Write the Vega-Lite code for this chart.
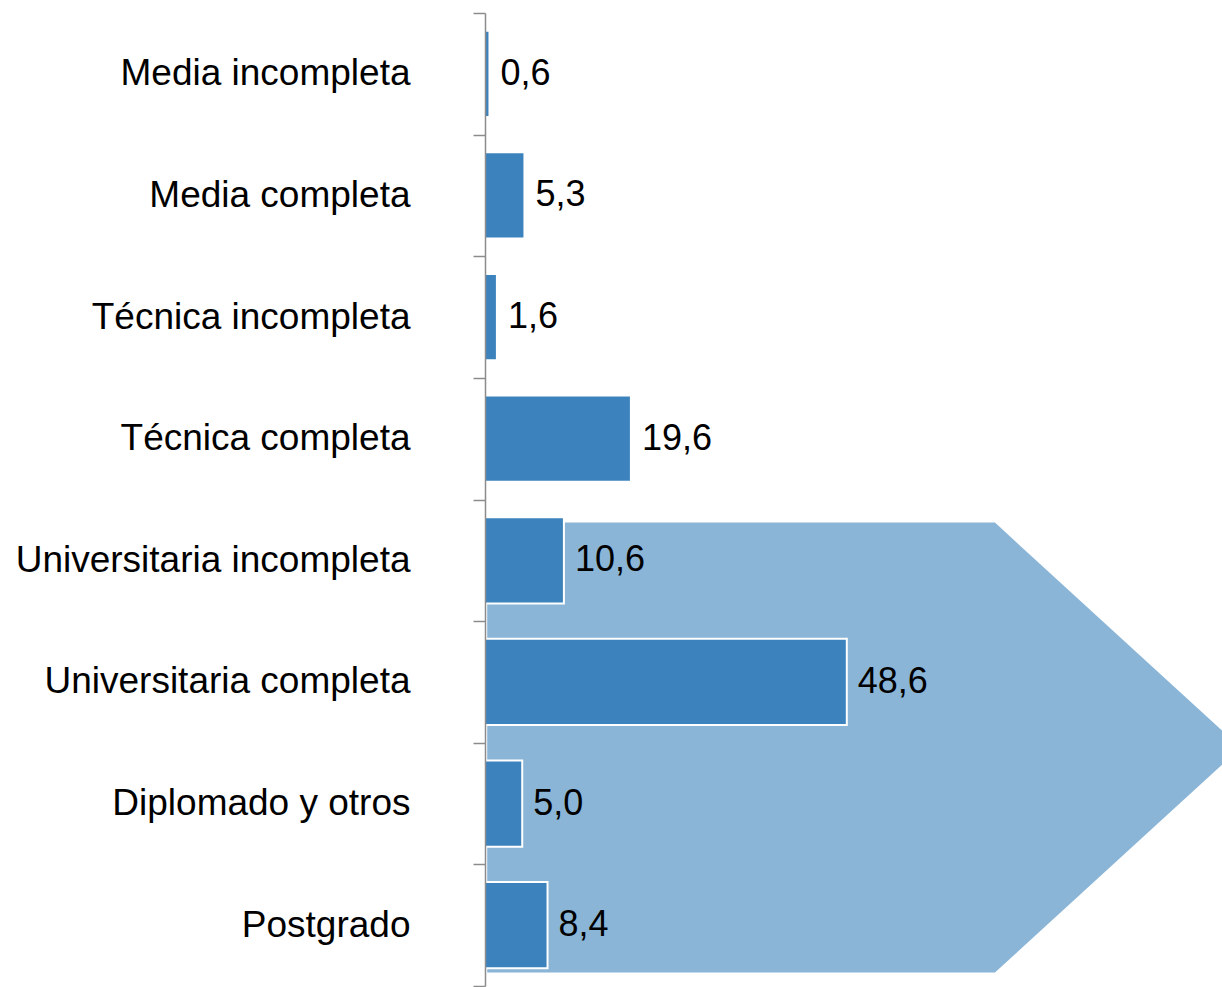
{
  "$schema": "https://vega.github.io/schema/vega-lite/v6.json",
  "autosize": "none",
  "padding": {"left": 485, "top": 13, "right": 0, "bottom": 1},
  "width": 737,
  "height": 973,
  "config": {
    "view": {"stroke": null},
    "font": "Liberation Sans",
    "locale": {"number": {"decimal": ",", "thousands": ".", "grouping": [3], "currency": ["", ""]}}
  },
  "layer": [
    {
      "data": {"values": [
        {"pos": 4.19, "reach": 68.5},
        {"pos": 6.04, "reach": 101.5},
        {"pos": 7.89, "reach": 68.5}
      ]},
      "mark": {"type": "area", "orient": "horizontal", "color": "#8AB5D7", "opacity": 1},
      "encoding": {
        "y": {"field": "pos", "type": "quantitative", "scale": {"domain": [0, 8], "reverse": true, "nice": false, "zero": false}, "axis": null},
        "x": {"field": "reach", "type": "quantitative", "scale": {"domain": [0, 99], "nice": false}, "axis": null},
        "x2": {"datum": 0.3}
      }
    },
    {
      "data": {"values": [
        {"nivel": "Media incompleta", "pct": 0.6},
        {"nivel": "Media completa", "pct": 5.3},
        {"nivel": "Técnica incompleta", "pct": 1.6},
        {"nivel": "Técnica completa", "pct": 19.6},
        {"nivel": "Universitaria incompleta", "pct": 10.6},
        {"nivel": "Universitaria completa", "pct": 48.6},
        {"nivel": "Diplomado y otros", "pct": 5.0},
        {"nivel": "Postgrado", "pct": 8.4}
      ]},
      "encoding": {
        "y": {
          "field": "nivel", "type": "nominal", "sort": null,
          "scale": {"paddingInner": 0, "paddingOuter": 0},
          "axis": {
            "title": null,
            "tickBand": "extent",
            "labelFontSize": 37,
            "labelColor": "#000000",
            "labelFont": "Liberation Sans",
            "labelPadding": 63,
            "labelLimit": 600,
            "tickSize": 12,
            "tickColor": "#8c8c8c",
            "tickWidth": 1.5,
            "domainColor": "#8c8c8c",
            "domainWidth": 1.5,
            "zindex": 1
          }
        },
        "x": {"field": "pct", "type": "quantitative", "scale": {"domain": [0, 99], "nice": false}, "axis": null}
      },
      "layer": [
        {"mark": {"type": "bar", "color": "#3C83BE", "stroke": "#ffffff", "strokeWidth": 2, "height": {"band": 0.71}}},
        {
          "mark": {"type": "text", "align": "left", "baseline": "middle", "dx": 11, "fontSize": 36, "color": "#000000", "font": "Liberation Sans"},
          "encoding": {"text": {"field": "pct", "type": "quantitative", "format": ".1f"}}
        }
      ]
    }
  ],
  "resolve": {"scale": {"y": "independent"}}
}
